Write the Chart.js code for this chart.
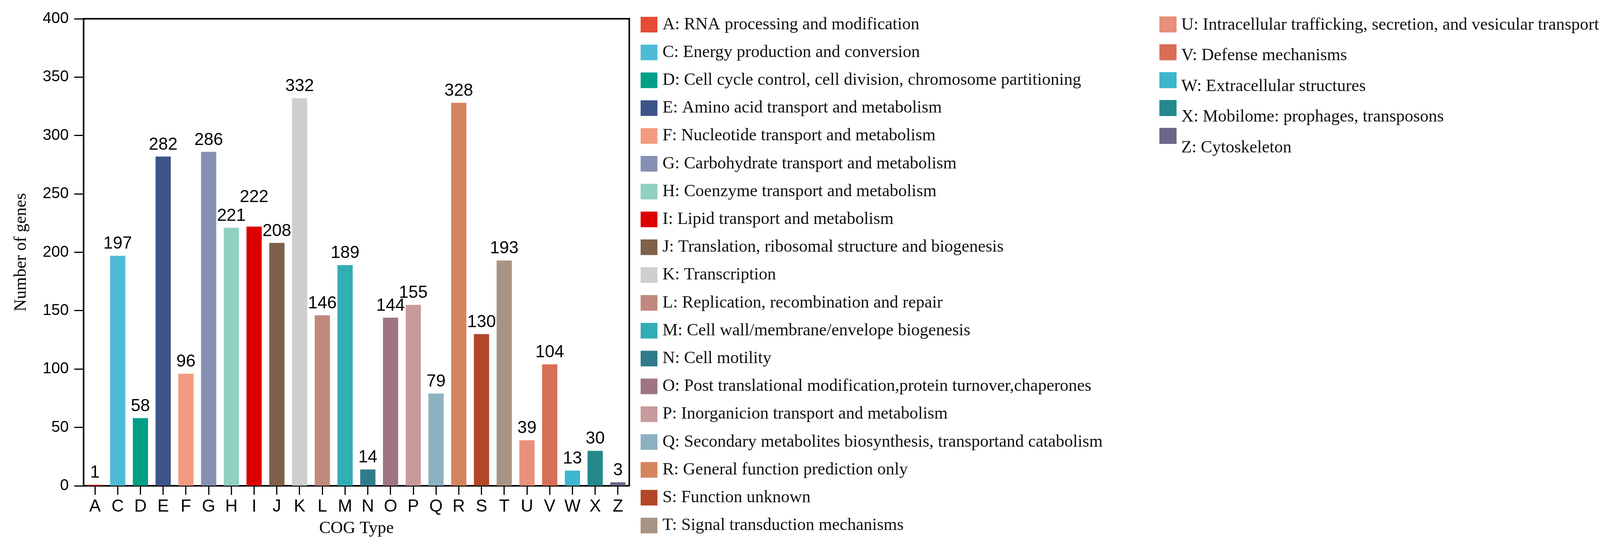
<!DOCTYPE html>
<html>
<head>
<meta charset="utf-8">
<title>COG classification</title>
<script src="https://cdn.jsdelivr.net/npm/chart.js@4.4.1/dist/chart.umd.min.js"></script>
<style>
  html, body { margin: 0; padding: 0; background: #fff; }
  #wrap { width: 4216px; height: 1397px; }
</style>
</head>
<body>
<div id="wrap"><canvas id="cogChart"></canvas></div>
<script>
const cogTypes = ["A", "C", "D", "E", "F", "G", "H", "I", "J", "K", "L", "M",
	"N", "O", "P", "Q", "R", "S", "T", "U", "V", "W", "X", "Z"];
const geneCounts = [1, 197, 58, 282, 96, 286, 221, 222, 208, 332, 146, 189,
	14, 144, 155, 79, 328, 130, 193, 39, 104, 13, 30, 3];
const cogDescriptions = [
	"A: RNA processing and modification",
	"C: Energy production and conversion",
	"D: Cell cycle control, cell division, chromosome partitioning",
	"E: Amino acid transport and metabolism",
	"F: Nucleotide transport and metabolism",
	"G: Carbohydrate transport and metabolism",
	"H: Coenzyme transport and metabolism",
	"I: Lipid transport and metabolism",
	"J: Translation, ribosomal structure and biogenesis",
	"K: Transcription",
	"L: Replication, recombination and repair",
	"M: Cell wall/membrane/envelope biogenesis",
	"N: Cell motility",
	"O: Post translational modification,protein turnover,chaperones",
	"P: Inorganicion transport and metabolism",
	"Q: Secondary metabolites biosynthesis, transportand catabolism",
	"R: General function prediction only",
	"S: Function unknown",
	"T: Signal transduction mechanisms",
	"U: Intracellular trafficking, secretion, and vesicular transport",
	"V: Defense mechanisms",
	"W: Extracellular structures",
	"X: Mobilome: prophages, transposons",
	"Z: Cytoskeleton",
];
const cogColors = ["#e64b35", "#4dbbd5", "#00a087", "#3c5488", "#f39b7f", "#8491b4",
	"#91d1c2", "#dc0000", "#7e6148", "#cfcfcf", "#c1897d", "#32adb5",
	"#2f7b8c", "#a07583", "#c99a9b", "#8cb1c0", "#d5855e", "#b24728",
	"#a89485", "#e8907b", "#d86e57", "#3db6cf", "#23898b", "#6b6688"];
const yMin = 0;
const yMax = 400;
const yStep = 50;

const SANS = "'Liberation Sans', Arial, sans-serif";
const SERIF = "'Liberation Serif', 'Times New Roman', serif";

// counts written over the bars, I is pushed up so it clears H
const barLabels = {
	id: "barLabels",
	afterDatasetsDraw(chart, args, opts) {
		const ctx = chart.ctx;
		ctx.save();
		ctx.font = opts.font;
		ctx.fillStyle = "#000";
		ctx.textAlign = "center";
		ctx.textBaseline = "alphabetic";
		chart.getDatasetMeta(0).data.forEach((bar, i) => {
			const lift = opts.lift[chart.data.labels[i]] || 0;
			ctx.fillText(chart.data.datasets[0].data[i], bar.x, bar.y - opts.gap - lift);
		});
		ctx.restore();
	},
};

// closes the box on top and right
const frame = {
	id: "frame",
	afterDraw(chart) {
		const { ctx, chartArea: a } = chart;
		ctx.save();
		ctx.strokeStyle = "#000";
		ctx.lineWidth = 4;
		ctx.beginPath();
		ctx.moveTo(a.left, a.top);
		ctx.lineTo(a.right, a.top);
		ctx.lineTo(a.right, a.bottom);
		ctx.stroke();
		ctx.restore();
	},
};

// two column legend, one entry per COG class
const cogLegend = {
	id: "cogLegend",
	afterDraw(chart, args, opts) {
		const ctx = chart.ctx;
		ctx.save();
		ctx.textAlign = "left";
		ctx.textBaseline = "middle";
		opts.columns.forEach((col) => {
			ctx.font = col.font;
			for (let i = col.from; i < col.to; i++) {
				const k = i - col.from;
				ctx.fillStyle = cogColors[i];
				ctx.fillRect(col.x, col.boxTop + k * col.boxStep, col.boxW, col.boxH);
				ctx.fillStyle = "#111";
				ctx.fillText(cogDescriptions[i], col.textX, col.textMid + k * col.textStep);
			}
		});
		ctx.restore();
	},
};

const ctx = document.getElementById("cogChart");
new Chart(ctx, {
	type: "bar",
	data: {
		labels: cogTypes,
		datasets: [
			{
				label: "Number of genes",
				data: geneCounts,
				backgroundColor: cogColors,
				borderWidth: 0,
				categoryPercentage: 1,
				barPercentage: 0.67,
			},
		],
	},
	options: {
		responsive: true,
		maintainAspectRatio: false,
		devicePixelRatio: 1,
		animation: false,
		layout: { padding: { top: 48, right: 2605, bottom: 0, left: 0 } },
		plugins: {
			legend: { display: false },
			tooltip: { enabled: false },
			barLabels: { font: "44px " + SANS, gap: 18, lift: { I: 45 } },
			cogLegend: {
				columns: [
					{ from: 0, to: 19, font: "44px " + SERIF, x: 1640, boxTop: 43, boxStep: 71.2,
						boxW: 43, boxH: 40, textX: 1696, textMid: 63, textStep: 71.2 },
					{ from: 19, to: 24, font: "44px " + SERIF, x: 2968, boxTop: 42, boxStep: 71.3,
						boxW: 44, boxH: 41, textX: 3024, textMid: 64, textStep: 78.6 },
				],
			},
		},
		scales: {
			x: {
				afterFit: (scale) => { scale.height = 154; },
				grid: {
					offset: false,
					drawOnChartArea: false,
					tickLength: 23,
					tickWidth: 3,
					tickColor: "#000",
				},
				border: { color: "#000", width: 4 },
				ticks: {
					color: "#000",
					padding: 4,
					maxRotation: 0,
					autoSkip: false,
					font: { family: SANS, size: 44 },
				},
				title: {
					display: true,
					text: "COG Type",
					color: "#000",
					padding: { top: 0, bottom: 18 },
					font: { family: SERIF, size: 44 },
				},
			},
			y: {
				min: yMin,
				max: yMax,
				afterFit: (scale) => { scale.width = 214; },
				grid: {
					drawOnChartArea: false,
					tickLength: 24,
					tickWidth: 3,
					tickColor: "#000",
				},
				border: { color: "#000", width: 4 },
				ticks: {
					stepSize: yStep,
					color: "#000",
					padding: 14,
					font: { family: SANS, size: 40 },
				},
				title: {
					display: true,
					text: "Number of genes",
					color: "#000",
					padding: { top: 28, bottom: 0 },
					font: { family: SERIF, size: 44 },
				},
			},
		},
	},
	plugins: [barLabels, frame, cogLegend],
});
</script>
</body>
</html>
